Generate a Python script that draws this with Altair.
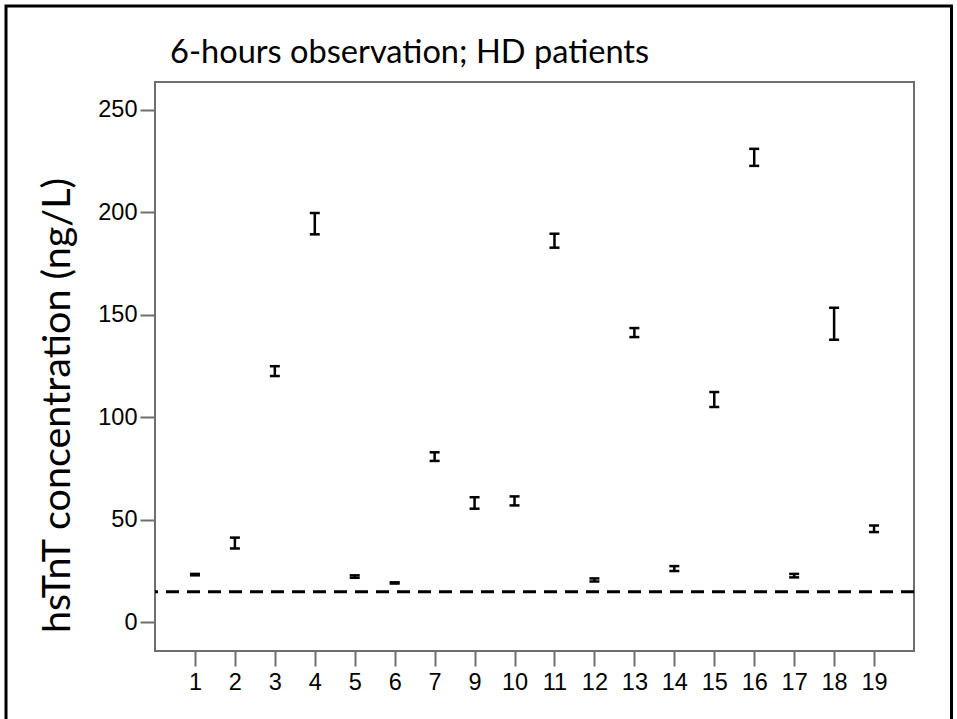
import altair as alt
import pandas as pd

# Patient identifiers (patient 8 not included) and the low/high ends of each interval, ng/L
patients = ["1", "2", "3", "4", "5", "6", "7", "9", "10", "11",
            "12", "13", "14", "15", "16", "17", "18", "19"]
low = [23.0, 36.1, 120.2, 189.3, 21.8, 19.0, 78.8, 55.5, 57.1, 182.8,
       20.0, 139.2, 25.1, 105.1, 222.7, 22.0, 137.9, 44.1]
high = [23.7, 41.4, 125.0, 199.7, 23.0, 19.6, 83.0, 61.1, 61.5, 189.6,
        21.5, 143.6, 27.5, 112.4, 231.0, 23.7, 153.5, 47.3]

# Reference level drawn as a dashed line
cutoff = [15]

y_ticks = [0, 50, 100, 150, 200, 250]

heading = "6-hours observation; HD patients"

df = pd.DataFrame({"patient": patients, "low": low, "high": high})
cut_df = pd.DataFrame({"level": cutoff})

W, H = 759, 569
PAD_L, PAD_T = 155, 82

x_enc = alt.X(
    "patient:O",
    sort=patients,
    scale=alt.Scale(type="point", padding=1.5),
    axis=alt.Axis(title=None, labelAngle=0, labelPadding=4),
)
y_scale = alt.Scale(domain=[-13.9, 263.6], nice=False, zero=False)

base = alt.Chart(df)

stems = base.mark_rule(color="black", strokeWidth=2.5).encode(
    x=x_enc,
    y=alt.Y(
        "low:Q",
        scale=y_scale,
        axis=alt.Axis(
            values=y_ticks,
            title="hsTnT concentration (ng/L)",
            titleFont="Lato",
            titleFontSize=39.5,
            titleFontWeight="normal",
            titleColor="black",
            titleAngle=270,
            titleBaseline="middle",
            titleX=-98,
            titleY=323,
            labelPadding=3,
        ),
    ),
    y2="high:Q",
)

caps_low = base.mark_tick(color="black", thickness=2.5, size=10, opacity=1).encode(
    x=alt.X("patient:O", sort=patients), y=alt.Y("low:Q", scale=y_scale)
)
caps_high = base.mark_tick(color="black", thickness=2.5, size=10, opacity=1).encode(
    x=alt.X("patient:O", sort=patients), y=alt.Y("high:Q", scale=y_scale)
)

cut_line = alt.Chart(cut_df).mark_rule(
    color="black", strokeWidth=3, strokeDash=[13, 8]
).encode(y=alt.Y("level:Q", scale=y_scale))

# Heading text above the plot frame
title_text = alt.Chart(alt.Data(values=[{"t": heading}])).mark_text(
    font="Lato", fontSize=32.6, color="black", align="left", baseline="alphabetic"
).encode(
    text="t:N",
    x=alt.value(170 - PAD_L),
    y=alt.value(63 - PAD_T),
)

# Black border framing the whole figure
border = alt.Chart(alt.Data(values=[{}])).mark_rect(
    fill="transparent", stroke="black", strokeWidth=3
).encode(
    x=alt.value(6 - PAD_L),
    x2=alt.value(951.5 - PAD_L),
    y=alt.value(6 - PAD_T),
    y2=alt.value(740 - PAD_T),
)

chart = (
    alt.layer(cut_line, stems, caps_low, caps_high, title_text, border)
    .properties(
        width=W,
        height=H,
        autosize=alt.AutoSizeParams(type="none"),
        padding={"left": PAD_L, "top": PAD_T, "right": 957 - PAD_L - W, "bottom": 719 - PAD_T - H},
        background="white",
    )
    .configure_view(stroke="#6e6e6e", strokeWidth=2)
    .configure_axis(
        domain=False,
        grid=False,
        labelFont="Liberation Sans",
        labelFontSize=23.5,
        labelColor="black",
        tickColor="#6e6e6e",
        tickWidth=2,
        tickSize=15,
    )
)

chart.save("out.html", embed_options={"renderer": "svg", "actions": False})
